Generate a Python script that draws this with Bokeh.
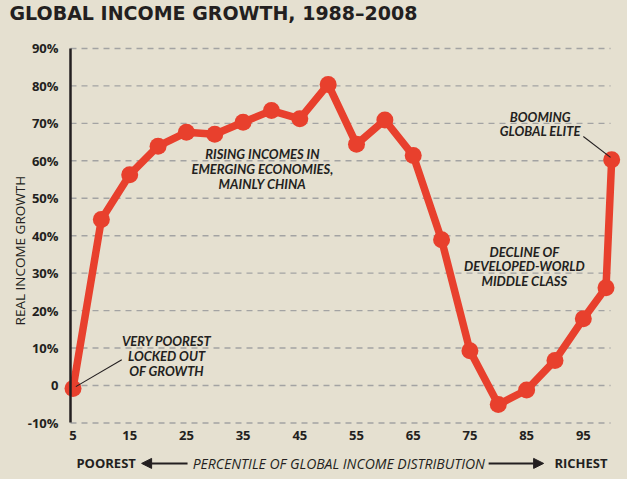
import math
from bokeh.plotting import figure
from bokeh.models import (Range1d, FixedTicker, Label, Arrow, NormalHead, LinearAxis)
from bokeh.embed import file_html
from bokeh.resources import INLINE

# ---- data ----
percentile = [5, 10, 15, 20, 25, 30, 35, 40, 45, 50, 55, 60, 65, 70, 75, 80, 85, 90, 95, 99, 100]
growth = [-0.8, 44.3, 56.3, 63.9, 67.6, 67.1, 70.3, 73.4, 71.2, 80.4, 64.4, 70.9, 61.4,
          38.9, 9.3, -5.1, -1.2, 6.7, 17.8, 26.1, 60.3]
x_ticks = [5, 15, 25, 35, 45, 55, 65, 75, 85, 95]
y_ticks = [-10, 0, 10, 20, 30, 40, 50, 60, 70, 80, 90]
y_tick_labels = {v: ("0" if v == 0 else f"{v}%") for v in y_ticks}

title_text = "GLOBAL INCOME GROWTH, 1988\u20132008"
y_label = "REAL INCOME GROWTH"
x_label = "PERCENTILE OF GLOBAL INCOME DISTRIBUTION"
left_label = "POOREST"
right_label = "RICHEST"
notes = {
    "rising": ["RISING INCOMES IN", "EMERGING ECONOMIES,", "MAINLY CHINA"],
    "poorest": ["VERY POOREST", "LOCKED OUT", "OF GROWTH"],
    "elite": ["BOOMING", "GLOBAL ELITE"],
    "decline": ["DECLINE OF", "DEVELOPED-WORLD", "MIDDLE CLASS"],
}

BG = "#E5E0D0"
RED = "#E8402D"
INK = "#231F20"
GRID = "#A3A3A3"

W, H = 627, 479
X0, X1 = -7.787, 102.79
Y0, Y1 = -25.10, 102.80
SPINE_X = 4.56
AXIS_Y = -9.9

p = figure(width=W, height=H, output_backend="svg", toolbar_location=None,
           x_range=Range1d(X0, X1), y_range=Range1d(Y0, Y1),
           x_axis_type=None, y_axis_type=None,
           min_border_left=0, min_border_right=0, min_border_top=0, min_border_bottom=0)
p.background_fill_color = BG
p.border_fill_color = BG
p.outline_line_color = None
p.xgrid.visible = False
p.ygrid.visible = False

try:
    from bokeh.models import GlobalInlineStyleSheet
    p.stylesheets = [GlobalInlineStyleSheet(css=f"body{{background:{BG};}}")]
except Exception:
    pass

# y axis, pinned at the spine position inside the frame
ya = LinearAxis(fixed_location=SPINE_X)
ya.ticker = FixedTicker(ticks=y_ticks)
ya.major_label_overrides = y_tick_labels
ya.bounds = (min(y_ticks), max(y_ticks))
ya.axis_line_color = INK
ya.axis_line_width = 2.5
ya.major_tick_line_color = None
ya.minor_tick_line_color = None
ya.major_label_standoff = 6
ya.major_label_text_font = "Open Sans"
ya.major_label_text_font_style = "bold"
ya.major_label_text_font_size = "13px"
ya.major_label_text_color = INK
p.add_layout(ya, "left")

# x axis, pinned just below the -10% line
xa = LinearAxis(fixed_location=AXIS_Y)
xa.ticker = FixedTicker(ticks=x_ticks)
xa.axis_line_color = None
xa.major_tick_line_color = None
xa.minor_tick_line_color = None
xa.major_label_standoff = 2
xa.major_label_text_font = "Open Sans"
xa.major_label_text_font_style = "bold"
xa.major_label_text_font_size = "13px"
xa.major_label_text_color = INK
p.add_layout(xa, "below")

# dashed gridlines
p.segment(x0=[SPINE_X] * len(y_ticks), x1=[99.8] * len(y_ticks), y0=y_ticks, y1=y_ticks,
          line_color=GRID, line_width=1.4, line_dash="6 5")

# series
p.line(percentile, growth, line_color=RED, line_width=7.5, line_join="round", line_cap="round")
p.scatter(percentile, growth, size=17, fill_color=RED, line_color=None)

def lab(x, y, text, align="center", style="bold italic", size="13px", font="Lato", angle=0):
    p.add_layout(Label(x=x, y=y, text=text, text_align=align, text_baseline="middle",
                       text_font=font, text_font_style=style, text_font_size=size,
                       text_color=INK, angle=angle))

# annotations
for t, yy in zip(notes["rising"], [61.9, 57.9, 53.9]):
    lab(38.4, yy, t)
for t, yy in zip(notes["poorest"], [11.8, 7.8, 4.0]):
    lab(21.5, yy, t)
for t, yy in zip(notes["elite"], [71.8, 67.9]):
    lab(87.4, yy, t)
for t, yy in zip(notes["decline"], [35.6, 31.9, 28.0]):
    lab(84.6, yy, t)

# leader lines
p.segment(x0=[percentile[0] + 0.5, percentile[-1] - 0.2], y0=[growth[0] + 0.5, growth[-1] + 0.6],
          x1=[13.6, 95.0], y1=[6.9, 66.5], line_color=INK, line_width=1.1)

# y axis title (upright, rotated)
lab(-4.3, 36.0, y_label, style="normal", size="13.5px", font="Open Sans", angle=math.pi / 2)

# title
lab(-6.2, 99.5, title_text, align="left", style="bold", size="19px", font="DejaVu Sans")

# bottom row
yb = -20.8
lab(5.6, yb, left_label, align="left", style="bold", size="13px", font="Open Sans")
lab(26.1, yb, x_label, align="left", style="italic", size="14px", font="Open Sans")
lab(89.9, yb, right_label, align="left", style="bold", size="13px", font="Open Sans")
p.add_layout(Arrow(end=NormalHead(size=10, fill_color=INK, line_color=INK),
                   x_start=25.2, y_start=yb, x_end=17.1, y_end=yb,
                   line_color=INK, line_width=2))
p.add_layout(Arrow(end=NormalHead(size=10, fill_color=INK, line_color=INK),
                   x_start=78.3, y_start=yb, x_end=88.0, y_end=yb,
                   line_color=INK, line_width=2))

open("out.html", "w").write(file_html(p, INLINE))
